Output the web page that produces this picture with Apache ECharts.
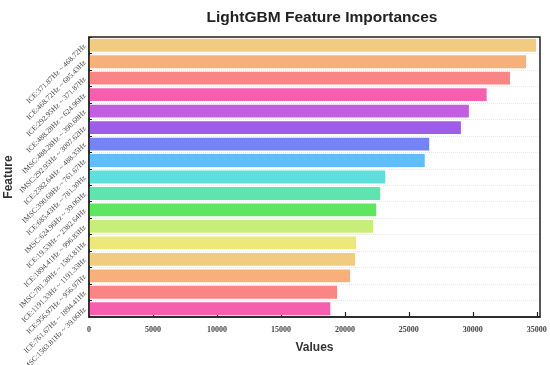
<!DOCTYPE html>
<html><head><meta charset="utf-8">
<script src="https://cdn.jsdelivr.net/npm/echarts@6/dist/echarts.min.js"></script>
<style>html,body{margin:0;padding:0;background:#fff}#c{width:550px;height:365px}</style>
</head><body><div id="c"></div>
<script>
const categories = [
  "ICE:371.87Hz ~ 468.72Hz",
  "ICE:468.72Hz ~ 685.43Hz",
  "ICE:292.95Hz ~ 371.87Hz",
  "ICE:488.28Hz ~ 624.96Hz",
  "IMSC:488.28Hz ~ 390.68Hz",
  "IMSC:292.95Hz ~ 3007.62Hz",
  "ICE:2382.64Hz ~ 488.35Hz",
  "IMSC:390.68Hz ~ 761.67Hz",
  "ICE:685.43Hz ~ 781.30Hz",
  "IMSC:624.96Hz ~ 39.06Hz",
  "ICE:19.53Hz ~ 2382.64Hz",
  "ICE:1894.41Hz ~ 996.83Hz",
  "IMSC:781.30Hz ~ 1583.81Hz",
  "ICE:1191.33Hz ~ 1191.33Hz",
  "ICE:956.97Hz ~ 956.97Hz",
  "ICE:761.67Hz ~ 1894.41Hz",
  "IMSC:1583.81Hz ~ 39.06Hz"
];
const values = [34950, 34170, 32910, 31080, 29690, 29070, 26590, 26240, 23150, 22760, 22450, 22210, 20880, 20800, 20410, 19390, 18860];
const colors = ["#f0cc80","#f7b07a","#fb8585","#f55fae","#c35ee0","#a05ee8","#7584f5","#5fbef9","#5fdedc","#5fe4b0","#5fe660","#c8ee7a","#ede87a","#f0cc80","#f7b07a","#fb8585","#f55fae"];
const xTicks = {min: 0, max: 35250, interval: 5000};

const chart = echarts.init(document.getElementById('c'));
chart.setOption({
  animation: false,
  title: {text: 'LightGBM Feature Importances', left: 317, top: 5, textAlign: 'center',
    textStyle: {fontFamily: 'Liberation Sans', fontSize: 15.5, fontWeight: 'bold', color: '#222'}},
  grid: {left: 89, right: 10, top: 37, bottom: 48, containLabel: false, outerBoundsMode: 'none'},
  xAxis: {type: 'value', min: xTicks.min, max: xTicks.max, interval: xTicks.interval,
    name: 'Values', nameLocation: 'middle', nameGap: 25, nameMoveOverlap: false,
    nameTextStyle: {fontFamily: 'Liberation Sans', fontSize: 12, fontWeight: 'bold', color: '#333'},
    axisLine: {show: true, lineStyle: {color: '#222', width: 1.5}},
    axisTick: {show: true, inside: true, length: 5, lineStyle: {color: '#222', width: 1.2}},
    axisLabel: {fontFamily: 'Liberation Serif', fontSize: 8, fontWeight: 'bold', color: '#444', margin: 9,
      formatter: v => String(v)},
    splitLine: {show: false}},
  yAxis: [{type: 'category', data: categories, inverse: true,
    name: 'Feature', nameLocation: 'middle', nameGap: 74, nameRotate: 90, nameMoveOverlap: false,
    nameTextStyle: {fontFamily: 'Liberation Sans', fontSize: 12, fontWeight: 'bold', color: '#333'},
    axisLine: {show: true, lineStyle: {color: '#222', width: 1.5}},
    axisTick: {show: true, inside: true, alignWithLabel: true, length: 5, lineStyle: {color: '#222', width: 1.2}},
    axisLabel: {rotate: 45, fontFamily: 'Liberation Serif', fontSize: 7.5, color: '#444', margin: 4},
    splitLine: {show: true, lineStyle: {color: '#e6e6e6', type: 'dotted'}}},
   {type: 'category', data: categories, inverse: true, position: 'left',
    axisLine: {show: false}, axisLabel: {show: false},
    axisTick: {show: true, inside: true, length: 3, lineStyle: {color: '#222', width: 1}},
    splitLine: {show: false}}],
  graphic: [{type: 'rect', shape: {x: 89, y: 37, width: 451, height: 280}, silent: true, z: 10,
    style: {fill: 'none', stroke: '#222', lineWidth: 1.5}}],
  series: [{type: 'bar', data: values.map((v, i) => ({value: v, itemStyle: {color: colors[i]}})),
    barCategoryGap: '22%'}]
});
</script></body></html>
